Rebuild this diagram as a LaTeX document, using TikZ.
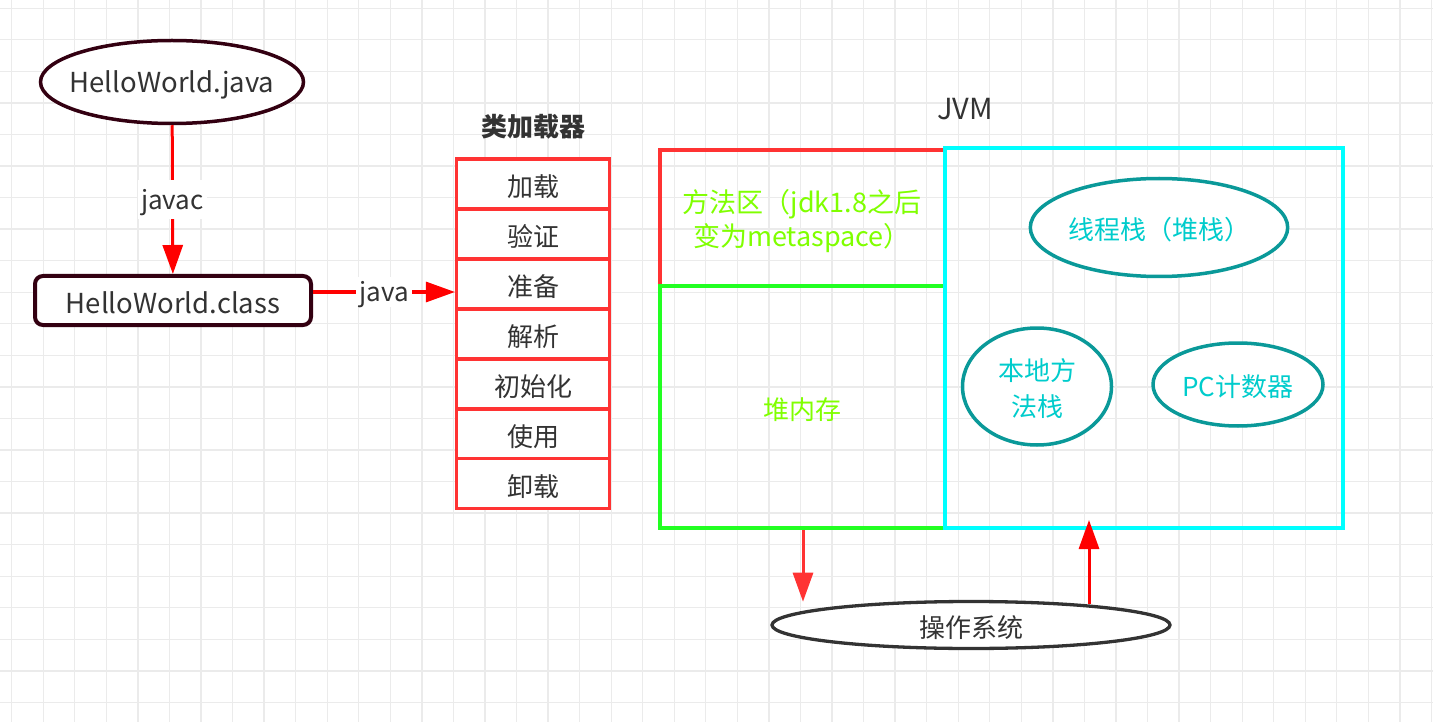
\documentclass[tikz,border=0pt]{standalone}
\usepackage{fontspec}
\setmainfont{Noto Sans CJK SC}
\usetikzlibrary{arrows.meta,shapes.geometric}

\definecolor{txt}{HTML}{333333}
\definecolor{darkrim}{HTML}{330011}
\definecolor{loaderred}{HTML}{FF3333}
\definecolor{heapgreen}{HTML}{22FF22}
\definecolor{jvmcyan}{HTML}{00FFFF}
\definecolor{lime}{HTML}{80FF00}
\definecolor{tealrim}{HTML}{0A9999}
\definecolor{tealtxt}{HTML}{00CCCC}
\definecolor{osrim}{HTML}{333333}
\definecolor{gridgray}{HTML}{EBEBEB}

% lower a line of text a little while keeping its box size
\newcommand{\lo}[1]{\raisebox{-2.5pt}[\height][\depth]{#1}}

\tikzset{
  base/.style={font=\fontsize{26pt}{34pt}\selectfont, text=txt, inner sep=0pt},
  latin/.style={font=\fontsize{27.5pt}{34pt}\selectfont},
  gridline/.style={draw=gridgray, line width=1.3pt},
  srcellipse/.style={base, ellipse, draw=darkrim, line width=3.5pt, fill=white},
  classbox/.style={base, latin, rectangle, rounded corners=8pt, draw=darkrim, line width=4pt, fill=white},
  loadercell/.style={base, rectangle, draw=loaderred, line width=3.5pt, fill=white,
    minimum width=152.6pt, minimum height=49.9pt},
  memtext/.style={base, text=lime, align=center},
  tealellipse/.style={base, ellipse, draw=tealrim, line width=3.5pt, fill=white, text=tealtxt, align=center},
  osellipse/.style={base, ellipse, draw=osrim, line width=3.3pt, fill=white},
  flow/.style={draw=red, line width=3pt, -{Triangle[width=20pt,length=29pt]}},
  softflow/.style={flow, color=loaderred},
  edgelabel/.style={base, fill=white, inner xsep=3pt, inner ysep=6pt},
}

\begin{document}
\begin{tikzpicture}[x=1pt, y=-1pt]
\useasboundingbox (0,0) rectangle (1433,722);
\fill[white] (0,0) rectangle (1433,722);

% background grid
\foreach \i in {0,...,45} \draw[gridline] ({11.7+31.55*\i},0) -- ({11.7+31.55*\i},722);
\foreach \j in {0,...,22} \draw[gridline] (0,{8.3+31.55*\j}) -- (1433,{8.3+31.55*\j});

% source and compiled class
\node[srcellipse, minimum width=263pt, minimum height=83pt,
      label={[base, latin]center:\lo{HelloWorld.java}}] (src) at (172,82) {};
\node[classbox, minimum width=276pt, minimum height=49pt] (cls) at (173,300.5) {\lo{HelloWorld.class}};
\draw[flow] (src) -- node[edgelabel] {\lo{javac}} (cls);

% class loader stages
\node[base, font=\fontsize{26pt}{34pt}\selectfont\bfseries] (ttl) at (533,127) {类加载器};
\node[loadercell] (k1) at (533,184.2) {\lo{加载}};
\node[loadercell] (k2) at (533,234.1) {\lo{验证}};
\node[loadercell] (k3) at (533,284.0) {\lo{准备}};
\node[loadercell] (k4) at (533,333.9) {\lo{解析}};
\node[loadercell] (k5) at (533,383.8) {\lo{初始化}};
\node[loadercell] (k6) at (533,433.7) {\lo{使用}};
\node[loadercell] (k7) at (533,483.6) {\lo{卸载}};
\coordinate (clsout) at ([yshift=8.5pt]cls.east);
\draw[flow] (clsout) -- node[edgelabel, inner ysep=2pt] {\lo{java}} (clsout -| k3.west);

% JVM memory areas
\node[base, font=\fontsize{29pt}{34pt}\selectfont] (jvmlbl) at (965,109) {JVM};
\node[minimum width=285pt, minimum height=136pt, inner sep=0pt] (ma) at (802.5,218) {};
\draw[loaderred, line width=3.5pt] (ma.south west) -- (ma.north west) -- (ma.north east);
\node[memtext, font=\fontsize{27pt}{34pt}\selectfont] (matext) at (802,221) {方法区（jdk1.8之后\\变为metaspace）};
\node[draw=heapgreen, line width=3.5pt, minimum width=285pt, minimum height=242pt, inner sep=0pt] (heap) at (802.5,407) {};
\node[memtext] (heaptext) at (802,410) {堆内存};
\node[draw=jvmcyan, line width=3.5pt, minimum width=398pt, minimum height=380pt, inner sep=0pt] (jvm) at (1144,338) {};

\node[tealellipse, minimum width=248pt, minimum height=98pt] (ts) at (1159,227.5) {\lo{线程栈（堆栈）}};
\node[tealellipse, minimum width=149pt, minimum height=117pt, font=\fontsize{26pt}{36pt}\selectfont] (ns) at (1037,386.5) {\lo{本地方}\\\lo{法栈}};
\node[tealellipse, minimum width=170pt, minimum height=83pt] (pc) at (1238,384.5) {\lo{PC计数器}};

% operating system
\node[osellipse, minimum width=398pt, minimum height=47pt] (os) at (971,625) {\lo{操作系统}};
\coordinate (dtip) at (803,601.7);
\draw[softflow] (heap.south -| dtip) -- (dtip);
\coordinate (utip) at (1089,520);
\draw[flow] ([yshift=-4pt]os.north -| utip) -- (utip);
\end{tikzpicture}
\end{document}
